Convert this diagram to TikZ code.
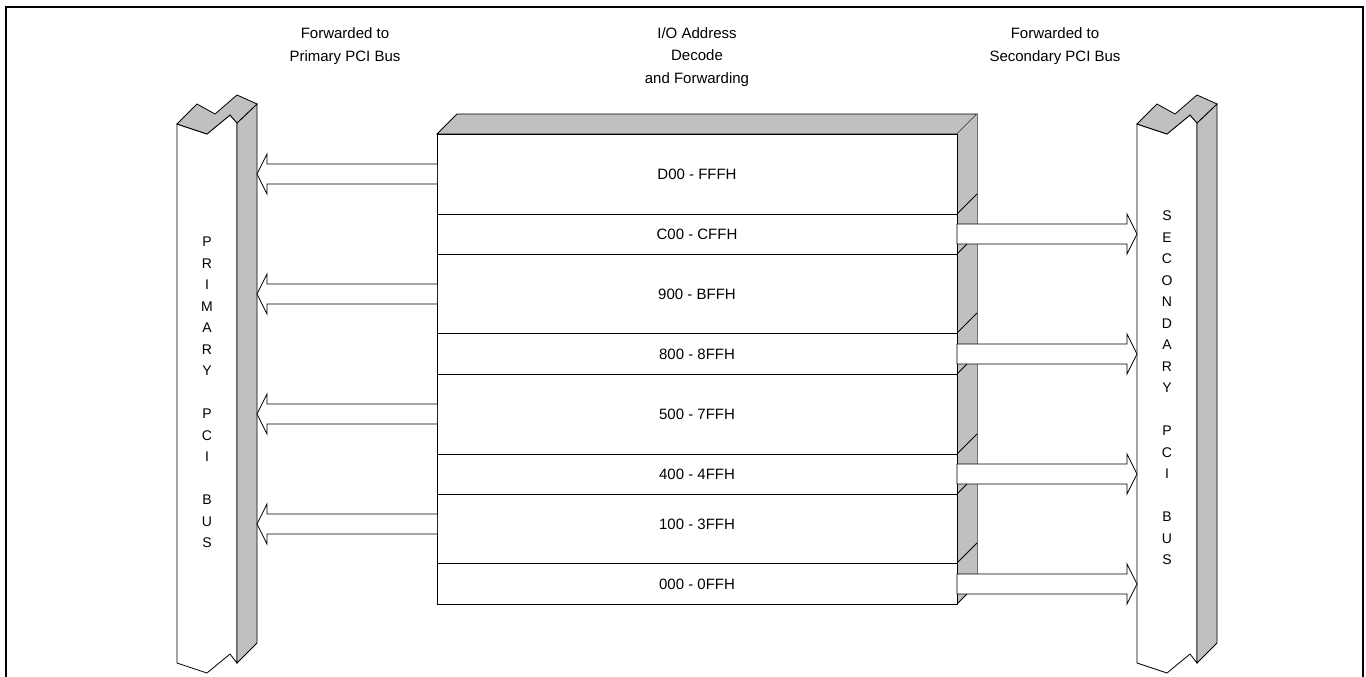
\documentclass[tikz,border=0pt]{standalone}
\usepackage{fontspec}
\setmainfont{Liberation Sans}
\usetikzlibrary{calc}
\definecolor{facegray}{HTML}{C0C0C0}
\definecolor{edgegray}{HTML}{707070}
\newcommand\larrow[3]{%
  \coordinate (s) at (#1.west |- #2);
  \coordinate (e) at (#3 |- #2);
  \draw[fatarrow] ($(s)+(0,-10)$) -- ($(e)+(10,-10)$) -- ($(e)+(10,-20)$) -- (e)
     -- ($(e)+(10,20)$) -- ($(e)+(10,10)$) -- ($(s)+(0,10)$);}
\newcommand\rarrow[3]{%
  \coordinate (s) at (#1.east |- #2);
  \coordinate (e) at (#3 |- #2);
  \draw[fatarrow] ($(s)+(0,-10)$) -- ($(e)+(-10,-10)$) -- ($(e)+(-10,-20)$) -- (e)
     -- ($(e)+(-10,20)$) -- ($(e)+(-10,10)$) -- ($(s)+(0,10)$) -- cycle;}
\newcommand\busshape[1]{%
  \begin{scope}[xshift=#1]
    \draw[face] (177,124) -- (207,134) -- (230,115) -- (237,123) -- (237,663)
       -- (230,654) -- (207,673) -- (177,663) -- cycle;
    \draw[shade] (237,123) -- (257,104) -- (257,643) -- (237,663) -- cycle;
    \draw[shade] (177,124) -- (197,104) -- (215,114) -- (237,95) -- (257,104)
       -- (237,123) -- (230,115) -- (207,134) -- cycle;
  \end{scope}}
\begin{document}
\begin{tikzpicture}[x=1pt,y=-1pt,line join=miter,
  every node/.style={font=\fontsize{15}{22.5}\selectfont},
  rowbox/.style={draw=black,fill=white,line width=0.8pt,minimum width=520pt,inner sep=0pt,outer sep=0pt},
  face/.style={draw=black,fill=white,line width=0.8pt},
  shade/.style={draw=black,fill=facegray,line width=0.8pt},
  fatarrow/.style={draw=black,fill=white,line width=0.8pt},
  lbl/.style={inner sep=0pt},
  title/.style={align=center,inner sep=0pt},
  vtext/.style={align=center,inner sep=0pt,font=\fontsize{14}{21.5}\selectfont}]
\useasboundingbox (0,0) rectangle (1366,677);
\draw[line width=2pt] (6,678) -- (6,7) -- (1363,7) -- (1363,678);

% titles
\node[title] (tl) at (345,46) {Forwarded to\\Primary PCI Bus};
\node[title] (tc) at (697,57) {I/O Address\\Decode\\and Forwarding};
\node[title] (tr) at (1055,46) {Forwarded to\\Secondary PCI Bus};

% buses
\busshape{0pt}
\busshape{960pt}
\coordinate (lbus) at (257,400);
\coordinate (rbus) at (1137,400);
\node[vtext] (pt) at (207,392.5) {P\\R\\I\\M\\A\\R\\Y\\~\\P\\C\\I\\~\\B\\U\\S};
\node[vtext] (st) at (1167,388) {S\\E\\C\\O\\N\\D\\A\\R\\Y\\~\\P\\C\\I\\~\\B\\U\\S};

% block: top and side faces
\draw[shade] (437,134) -- (457,114) -- (977,114) -- (957,134) -- cycle;
\fill[facegray] (957,134) -- (977,114) -- (977,584) -- (957,604) -- cycle;
\draw[edgegray,line width=0.8pt] (977,114) -- (977,584);
\foreach \yy in {214,254,333,374,454,494,563,604}
  \draw[line width=0.8pt] (957,\yy) -- (977,\yy-20);

% rows
\node[rowbox,minimum height=80pt] (r1) at (697,174) {};
\node[rowbox,minimum height=40pt] (r2) at (697,234) {};
\node[rowbox,minimum height=79pt] (r3) at (697,293.5) {};
\node[rowbox,minimum height=41pt] (r4) at (697,353.5) {};
\node[rowbox,minimum height=80pt] (r5) at (697,414) {};
\node[rowbox,minimum height=40pt] (r6) at (697,474) {};
\node[rowbox,minimum height=69pt] (r7) at (697,528.5) {};
\node[rowbox,minimum height=41pt] (r8) at (697,583.5) {};

\node[lbl] (t1) at (697,174) {D00 - FFFH};
\node[lbl] (t2) at (697,234) {C00 - CFFH};
\node[lbl] (t3) at (697,294) {900 - BFFH};
\node[lbl] (t4) at (697,354) {800 - 8FFH};
\node[lbl] (t5) at (697,414) {500 - 7FFH};
\node[lbl] (t6) at (697,474) {400 - 4FFH};
\node[lbl] (t7) at (697,524) {100 - 3FFH};
\node[lbl] (t8) at (697,584) {000 - 0FFH};

% arrows
\larrow{r1}{t1}{lbus}
\larrow{r3}{t3}{lbus}
\larrow{r5}{t5}{lbus}
\larrow{r7}{t7}{lbus}
\rarrow{r2}{t2}{rbus}
\rarrow{r4}{t4}{rbus}
\rarrow{r6}{t6}{rbus}
\rarrow{r8}{t8}{rbus}
\end{tikzpicture}
\end{document}
